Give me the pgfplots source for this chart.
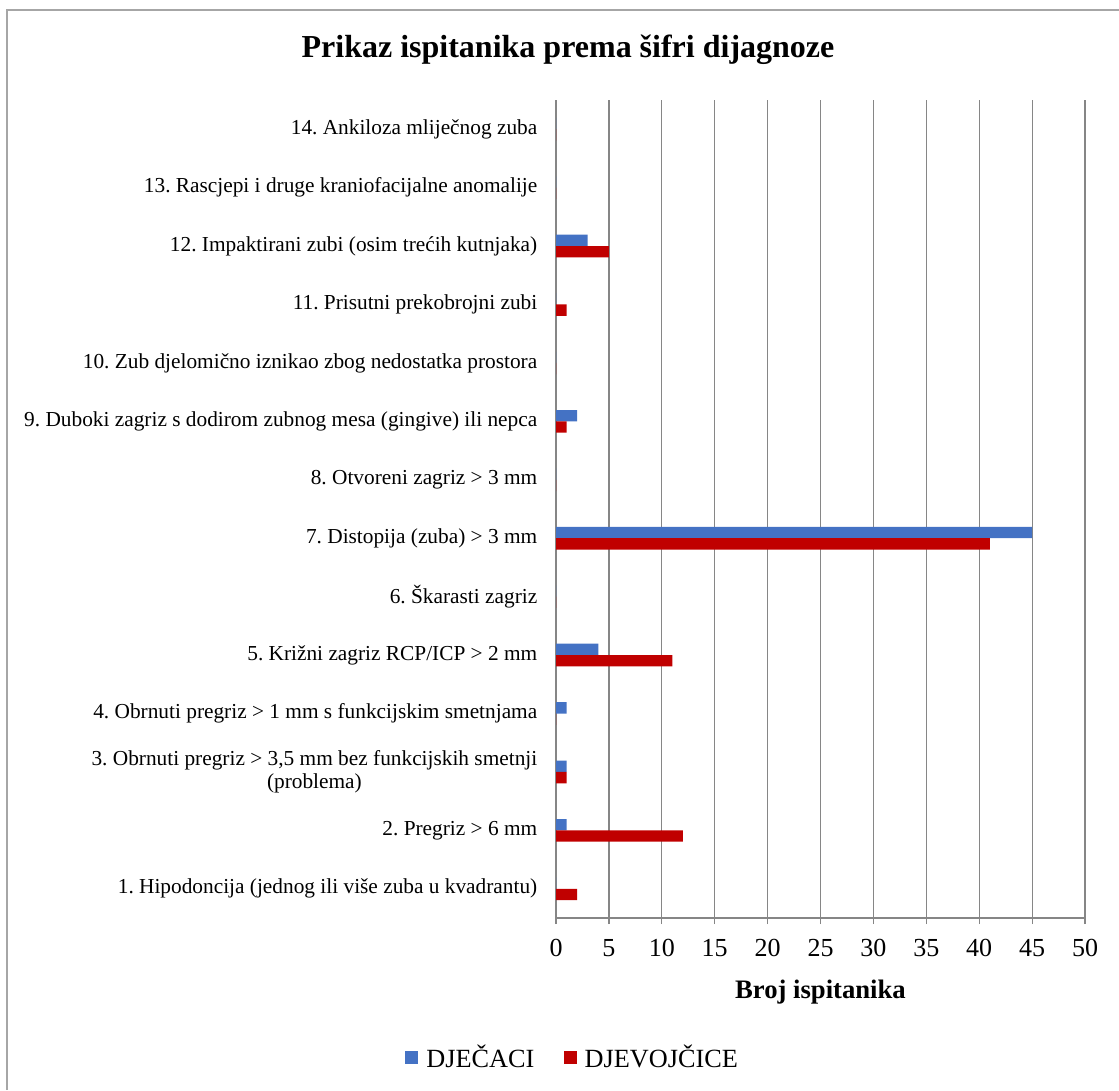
\documentclass[border=0pt]{standalone}
\usepackage{fontspec}
\setmainfont{Liberation Serif}
\usepackage{pgfplots}
\pgfplotsset{compat=1.18}
\definecolor{cblue}{HTML}{4472C4}
\definecolor{cred}{HTML}{C00000}
\definecolor{axgray}{HTML}{868686}
\definecolor{framegray}{HTML}{A6A6A6}
\frenchspacing
\begin{document}
\begin{tikzpicture}[x=0.75pt,y=0.75pt]
\path[use as bounding box] (0,0) rectangle (1119,1090);
\draw[color=framegray, line width=1.5pt] (7,0) -- (7,1080) -- (1119,1080);
\node[font=\bfseries\fontsize{24}{28}\selectfont] at (568,1040) {Prikaz ispitanika prema šifri dijagnoze};
\begin{axis}[
  at={(417pt,129pt)}, anchor=south west,
  scale only axis, width=396.75pt, height=613.5pt,
  xbar, bar width=8.5pt,
  xmin=0, xmax=50, ymin=0.5, ymax=14.5,
  xtick={0,5,...,50},
  ytick={1,...,14},
  yticklabels={
    {1. Hipodoncija (jednog ili više zuba u kvadrantu)},
    {2. Pregriz > 6 mm},
    {3. Obrnuti pregriz > 3,5 mm bez funkcijskih smetnji\\(problema)},
    {4. Obrnuti pregriz > 1 mm s funkcijskim smetnjama},
    {5. Križni zagriz RCP/ICP > 2 mm},
    {6. Škarasti zagriz},
    {7. Distopija (zuba) > 3 mm},
    {8. Otvoreni zagriz > 3 mm},
    {9. Duboki zagriz s dodirom zubnog mesa (gingive) ili nepca},
    {10. Zub djelomično iznikao zbog nedostatka prostora},
    {11. Prisutni prekobrojni zubi},
    {12. Impaktirani zubi (osim trećih kutnjaka)},
    {13. Rascjepi i druge kraniofacijalne anomalije},
    {14. Ankiloza mliječnog zuba}},
  yticklabel style={font=\fontsize{16}{17.5}\selectfont, align=center, xshift=-6pt},
  ytick style={draw=none},
  extra y ticks={0.5,1.5,...,14.5},
  extra y tick labels={},
  extra y tick style={major tick length=4.5pt, tick align=outside, tick style={draw=axgray, line width=1.2pt}, grid=none},
  xticklabel style={font=\fontsize{19.5}{22}\selectfont, yshift=-8pt},
  /pgf/number format/assume math mode=true,
  tick align=outside,
  major tick length=4.5pt,
  xtick style={draw=axgray, line width=0.9pt},
  xmajorgrids,
  grid style={draw=axgray, line width=0.9pt},
  axis x line*=bottom,
  axis y line*=left,
  x axis line style={draw=axgray, line width=1.2pt},
  y axis line style={draw=axgray, line width=1.6pt},
  xlabel={Broj ispitanika},
  xlabel style={font=\bfseries\fontsize{20}{23}\selectfont, at={(axis description cs:0.5,-0.0905)}, anchor=center},
  legend style={at={(axis description cs:0.032,-0.17)}, anchor=center, draw=none, legend columns=2,
    font=\fontsize{19.7}{22}\selectfont,
    /tikz/every odd column/.append style={column sep=4pt},
    /tikz/every even column/.append style={column sep=20pt}},
  legend image code/.code={\fill[#1,draw=none] (0pt,-4.9pt) rectangle (9.75pt,4.9pt);},
]
\addplot[fill=cblue, draw=none, bar shift=4.25pt] coordinates {
 (0,1) (1,2) (1,3) (1,4) (4,5) (0,6) (45,7) (0,8) (2,9) (0,10) (0,11) (3,12) (0,13) (0,14)};
\addplot[fill=cred, draw=none, bar shift=-4.25pt] coordinates {
 (2,1) (12,2) (1,3) (0,4) (11,5) (0,6) (41,7) (0,8) (1,9) (0,10) (1,11) (5,12) (0,13) (0,14)};
\legend{DJEČACI, DJEVOJČICE}
\end{axis}
\end{tikzpicture}
\end{document}
